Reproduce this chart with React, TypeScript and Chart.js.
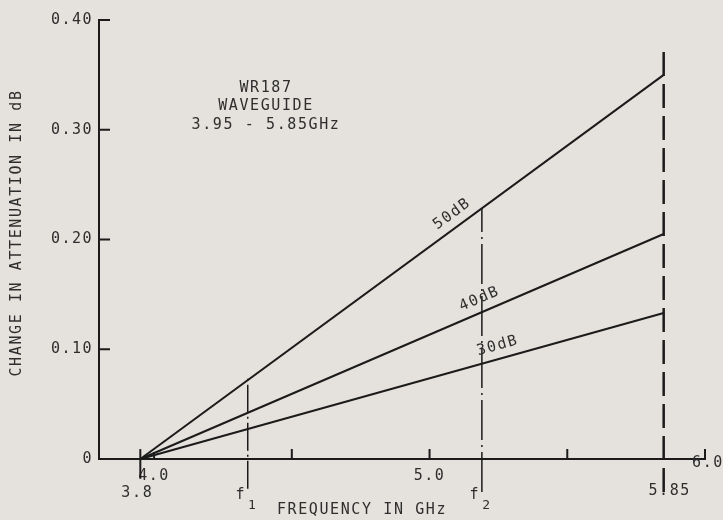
import React, { useEffect, useRef } from 'react';
import { Chart, registerables } from 'chart.js';

Chart.register(...registerables);

// ---- data ----
const seriesNames = ['50dB', '40dB', '30dB'];
const startGHz = 3.95;
const endGHz = 5.85;
const startValues = [0, 0, 0];
const endValues = [0.35, 0.205, 0.133];
const labelAtGHz = [5.11, 5.2, 5.26];

const xTickValues = [4.0, 4.5, 5.0, 5.5, 6.0];
const xTickLabels = ['4.0', '', '5.0', '', ''];
const yTickValues = [0, 0.1, 0.2, 0.3, 0.4];
const yTickLabels = ['0', '0.10', '0.20', '0.30', '0.40'];

const f1GHz = 4.34;
const f1Range = [-0.027, 0.074];
const f2GHz = 5.19;
const f2Range = [-0.03, 0.228];
const bandEdgeRange = [-0.03, 0.378];
const startTickRange = [-0.018, 0.009];

const infoLines = ['WR187', 'WAVEGUIDE', '3.95 - 5.85GHz'];
const xTitle = 'FREQUENCY IN GHz';
const yTitle = 'CHANGE IN ATTENUATION IN dB';

const INK = '#1b1b1b';
const TEXT = '#2e2e2e';
const FAMILY = "'DejaVu Sans Mono', monospace";

const paperPlugin = {
  id: 'paper',
  beforeDraw(chart: any) {
    chart.ctx.letterSpacing = '1.5px';
  },
  afterDraw(chart: any) {
    const ctx = chart.ctx as CanvasRenderingContext2D;
    const xs = chart.scales.x;
    const ys = chart.scales.y;
    const area = chart.chartArea;
    ctx.save();
    ctx.strokeStyle = INK;
    ctx.lineWidth = 2;
    // inward ticks on y axis
    yTickValues.forEach((v) => {
      if (v === 0) return;
      const py = ys.getPixelForValue(v);
      ctx.beginPath();
      ctx.moveTo(area.left, py);
      ctx.lineTo(area.left + 11, py);
      ctx.stroke();
    });
    // inward ticks on x axis
    xTickValues.forEach((v, i) => {
      const px = xs.getPixelForValue(v);
      const len = i === 0 ? 7 : 10;
      ctx.beginPath();
      ctx.moveTo(px, area.bottom);
      ctx.lineTo(px, area.bottom - len);
      ctx.stroke();
    });

    ctx.fillStyle = TEXT;
    ctx.letterSpacing = '1.6px';
    ctx.font = `15px ${FAMILY}`;
    ctx.textAlign = 'center';
    ctx.textBaseline = 'middle';

    // info block
    infoLines.forEach((t, i) => {
      ctx.fillText(t, 266, 88 + i * 18.5);
    });

    // extra axis labels
    ctx.fillText('6.0', xs.getPixelForValue(6.0) + 3, 463);
    ctx.fillText('3.8', xs.getPixelForValue(startGHz) - 3, 493);
    ctx.fillText('5.85', xs.getPixelForValue(endGHz) + 6, 491);
    ctx.fillText(xTitle, 362, 510);

    // f1 / f2
    const drawF = (ghz: number, sub: string) => {
      const px = xs.getPixelForValue(ghz);
      ctx.font = `15px ${FAMILY}`;
      ctx.fillText('f', px - 7, 495);
      ctx.font = `13px ${FAMILY}`;
      ctx.fillText(sub, px + 5, 506);
    };
    drawF(f1GHz, '1');
    drawF(f2GHz, '2');

    // y title
    ctx.font = `15px ${FAMILY}`;
    ctx.save();
    ctx.translate(17, 233);
    ctx.rotate(-Math.PI / 2);
    ctx.fillText(yTitle, 0, 0);
    ctx.restore();

    // series labels along lines
    seriesNames.forEach((name, i) => {
      const x0 = xs.getPixelForValue(startGHz);
      const y0 = ys.getPixelForValue(startValues[i]);
      const x1 = xs.getPixelForValue(endGHz);
      const y1 = ys.getPixelForValue(endValues[i]);
      const ang = Math.atan2(y1 - y0, x1 - x0);
      const g = labelAtGHz[i];
      const t = (g - startGHz) / (endGHz - startGHz);
      const fx = x0 + (x1 - x0) * t;
      const fy = y0 + (y1 - y0) * t;
      const off = 13;
      const cx = fx + Math.sin(ang) * off;
      const cy = fy - Math.cos(ang) * off;
      ctx.save();
      ctx.translate(cx, cy);
      ctx.rotate(ang);
      ctx.font = `15px ${FAMILY}`;
      ctx.fillText(name, 0, 0);
      ctx.restore();
    });
    ctx.restore();
    ctx.letterSpacing = '0px';
  },
};

export default function App() {
  const ref = useRef<HTMLCanvasElement>(null);
  useEffect(() => {
    const canvas = ref.current!;
    const lineSets = seriesNames.map((name, i) => ({
      label: name,
      data: [
        { x: startGHz, y: startValues[i] },
        { x: endGHz, y: endValues[i] },
      ],
      borderColor: INK,
      borderWidth: 2,
      pointRadius: 0,
      clip: false,
    }));
    const vertical = (label: string, x: number, range: number[], dash: number[], width: number) => ({
      label,
      data: [
        { x, y: range[0] },
        { x, y: range[1] },
      ],
      borderColor: INK,
      borderWidth: width,
      borderDash: dash,
      pointRadius: 0,
      clip: false,
    });
    const chart = new Chart(canvas, {
      type: 'line',
      data: {
        datasets: [
          ...lineSets,
          vertical('f1', f1GHz, f1Range, [28, 4, 2, 4], 1.5),
          vertical('f2', f2GHz, f2Range, [40, 5, 2, 5], 1.5),
          vertical('band edge', endGHz, bandEdgeRange, [24, 8], 2.5),
          vertical('start', startGHz, startTickRange, [], 2),
        ] as any,
      },
      options: {
        responsive: false,
        animation: false,
        layout: { padding: { top: 20, right: 18, left: 0, bottom: 0 } },
        plugins: { legend: { display: false }, tooltip: { enabled: false } },
        scales: {
          x: {
            type: 'linear',
            min: 3.8,
            max: 6.0,
            afterBuildTicks: (s: any) => {
              s.ticks = xTickValues.map((v) => ({ value: v }));
            },
            ticks: {
              callback: (_v: any, i: number) => xTickLabels[i],
              font: { family: FAMILY, size: 15 },
              color: TEXT,
              padding: 8,
              maxRotation: 0,
              autoSkip: false,
            },
            grid: { display: false, drawTicks: false },
            border: { display: true, color: INK, width: 2 },
            afterFit: (s: any) => {
              s.height = 61;
            },
          },
          y: {
            type: 'linear',
            min: 0,
            max: 0.4,
            afterBuildTicks: (s: any) => {
              s.ticks = yTickValues.map((v) => ({ value: v }));
            },
            ticks: {
              callback: (_v: any, i: number) => yTickLabels[i],
              font: { family: FAMILY, size: 15 },
              color: TEXT,
              padding: 6,
            },
            grid: { display: false, drawTicks: false },
            border: { display: true, color: INK, width: 2 },
            afterFit: (s: any) => {
              s.width = 99;
            },
          },
        },
      } as any,
      plugins: [paperPlugin],
    });
    return () => chart.destroy();
  }, []);
  return (
    <div
      style={{
        position: 'fixed',
        left: 0,
        top: 0,
        width: 723,
        height: 520,
        background: '#e5e1dc',
      }}
    >
      <canvas ref={ref} width={723} height={520} style={{ display: 'block' }} />
    </div>
  );
}
